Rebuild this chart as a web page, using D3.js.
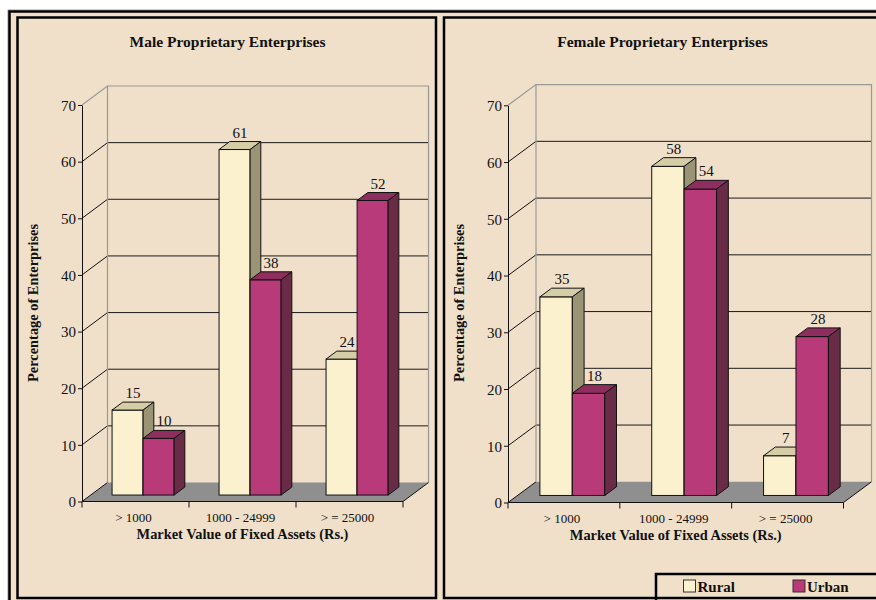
<!DOCTYPE html>
<html>
<head>
<meta charset="utf-8">
<script src="https://cdn.jsdelivr.net/npm/d3@7"></script>
<style>
  body { margin: 0; background: #fff; }
  svg text { font-family: "Liberation Serif", "Times New Roman", serif; fill: #111; }
</style>
</head>
<body>
<div id="chart"></div>
<script>
var categories = ["> 1000", "1000 - 24999", "> = 25000"];
var seriesNames = ["Rural", "Urban"];
var maleRural = [15, 61, 24];
var maleUrban = [10, 38, 52];
var femaleRural = [35, 58, 7];
var femaleUrban = [18, 54, 28];
var yTicks = [0, 10, 20, 30, 40, 50, 60, 70];

var bg = "#F0DFC9";
var colors = {
  Rural: {front: "#FBF1CF", top: "#D5CDA6", side: "#9A9374"},
  Urban: {front: "#B83A78", top: "#8E2E5E", side: "#6A2B47"}
};

var svg = d3.select("#chart").append("svg")
  .attr("width", 876)
  .attr("height", 600);

// beige sheet with the outer double border
svg.append("rect").attr("x", 8).attr("y", 10).attr("width", 900).attr("height", 620)
  .attr("fill", bg).attr("stroke", "#999").attr("stroke-width", 1);
svg.append("rect").attr("x", 9.5).attr("y", 11.5).attr("width", 900).attr("height", 620)
  .attr("fill", "none").attr("stroke", "#000").attr("stroke-width", 2.5);

var panels = [
  {title: "Male Proprietary Enterprises", rural: maleRural, urban: maleUrban, tx: 227.5,
   box: [17.5, 17.5, 418.5, 580.5], x0: 82, y0: 501.5, w: 321, h: 396.5, dx: 25.5, dy: 19},
  {title: "Female Proprietary Enterprises", rural: femaleRural, urban: femaleUrban, tx: 662.5,
   box: [444, 17.5, 440, 580.5], x0: 508, y0: 502.5, w: 335.5, h: 397.2, dx: 28, dy: 20.7}
];

var zFront = 0.34, zBack = 0.76;

panels.forEach(function(p) {
  var g = svg.append("g");

  g.append("rect")
    .attr("x", p.box[0]).attr("y", p.box[1])
    .attr("width", p.box[2]).attr("height", p.box[3])
    .attr("fill", "none").attr("stroke", "#000").attr("stroke-width", 2.5);

  var y = d3.scaleLinear().domain([0, 70]).range([p.y0, p.y0 - p.h]);
  var x = d3.scaleBand().domain(categories).range([p.x0, p.x0 + p.w]).padding(0);
  var bw = x.bandwidth();
  var xs = d3.scaleBand().domain(seriesNames).range([0.2 * bw, 0.78 * bw]).padding(0);

  // floor
  g.append("polygon")
    .attr("points", [[p.x0, p.y0], [p.x0 + p.w, p.y0], [p.x0 + p.w + p.dx, p.y0 - p.dy], [p.x0 + p.dx, p.y0 - p.dy]].join(" "))
    .attr("fill", "#8F8F8F");

  // gridlines on back wall and side wall
  var inner = yTicks.filter(function(t) { return t > 0 && t < 70; });
  g.selectAll(".grid").data(inner).enter().append("line")
    .attr("x1", p.x0 + p.dx).attr("x2", p.x0 + p.w + p.dx)
    .attr("y1", function(d) { return y(d) - p.dy; })
    .attr("y2", function(d) { return y(d) - p.dy; })
    .attr("stroke", "#1a1a1a").attr("stroke-width", 1);
  g.selectAll(".diag").data(inner.concat([0])).enter().append("line")
    .attr("x1", p.x0).attr("x2", p.x0 + p.dx)
    .attr("y1", function(d) { return y(d); })
    .attr("y2", function(d) { return y(d) - p.dy; })
    .attr("stroke", "#111").attr("stroke-width", 1);

  // back wall frame
  var top = y(70);
  g.append("path")
    .attr("d", "M" + p.x0 + "," + top + " L" + (p.x0 + p.dx) + "," + (top - p.dy) +
      " L" + (p.x0 + p.w + p.dx) + "," + (top - p.dy) +
      " L" + (p.x0 + p.w + p.dx) + "," + (p.y0 - p.dy))
    .attr("fill", "none").attr("stroke", "#999").attr("stroke-width", 1.2);
  g.append("line")
    .attr("x1", p.x0 + p.dx).attr("x2", p.x0 + p.dx)
    .attr("y1", top - p.dy).attr("y2", p.y0 - p.dy)
    .attr("stroke", "#999").attr("stroke-width", 1.2);

  // right edge of floor
  g.append("line")
    .attr("x1", p.x0 + p.w).attr("y1", p.y0)
    .attr("x2", p.x0 + p.w + p.dx).attr("y2", p.y0 - p.dy)
    .attr("stroke", "#111");

  // bars
  var ox = zFront * p.dx, oy = zFront * p.dy;
  var ddx = (zBack - zFront) * p.dx, ddy = (zBack - zFront) * p.dy;
  var bars = [];
  seriesNames.forEach(function(s) {
    var vals = s === "Rural" ? p.rural : p.urban;
    categories.forEach(function(c, i) { bars.push({s: s, c: c, v: vals[i]}); });
  });

  var bar = g.selectAll(".bar").data(bars).enter().append("g");
  function bx(d) { return x(d.c) + xs(d.s) + ox; }
  var bwid = xs.bandwidth();

  bar.append("rect")
    .attr("x", bx)
    .attr("y", function(d) { return y(d.v) - oy; })
    .attr("width", bwid)
    .attr("height", function(d) { return p.y0 - y(d.v); })
    .attr("fill", function(d) { return colors[d.s].front; })
    .attr("stroke", "#111").attr("stroke-width", 1);
  bar.append("polygon")
    .attr("points", function(d) {
      var x1 = bx(d), yt = y(d.v) - oy;
      return [[x1, yt], [x1 + ddx, yt - ddy], [x1 + bwid + ddx, yt - ddy], [x1 + bwid, yt]].join(" ");
    })
    .attr("fill", function(d) { return colors[d.s].top; })
    .attr("stroke", "#111").attr("stroke-width", 1);
  bar.append("polygon")
    .attr("points", function(d) {
      var x1 = bx(d) + bwid, yt = y(d.v) - oy, yb = p.y0 - oy;
      return [[x1, yt], [x1 + ddx, yt - ddy], [x1 + ddx, yb - ddy], [x1, yb]].join(" ");
    })
    .attr("fill", function(d) { return colors[d.s].side; })
    .attr("stroke", "#111").attr("stroke-width", 1);

  bar.append("text")
    .attr("x", function(d) { return bx(d) + bwid / 2 + ddx / 2; })
    .attr("y", function(d) { return y(d.v) - oy - ddy - 4; })
    .attr("text-anchor", "middle")
    .style("font-size", "15px")
    .text(function(d) { return d.v; });

  // axes
  g.append("g")
    .attr("transform", "translate(" + p.x0 + ",0)")
    .call(d3.axisLeft(y).tickValues(yTicks).tickSize(4).tickPadding(2).tickSizeOuter(0))
    .call(function(a) {
      a.select(".domain").attr("stroke", "#111");
      a.selectAll("line").attr("stroke", "#111");
      a.selectAll("text").style("font-size", "15px").attr("fill", "#111").attr("dy", "0.35em");
    });

  var xt = d3.scaleLinear().domain([0, 3]).range([p.x0, p.x0 + p.w]);
  g.append("line")
    .attr("x1", p.x0).attr("x2", p.x0 + p.w)
    .attr("y1", p.y0).attr("y2", p.y0)
    .attr("stroke", "#111");
  g.selectAll(".xtick").data([0, 1, 2, 3]).enter().append("line")
    .attr("x1", function(d) { return xt(d); }).attr("x2", function(d) { return xt(d); })
    .attr("y1", p.y0).attr("y2", p.y0 + 6)
    .attr("stroke", "#111");
  g.selectAll(".xlab").data(categories).enter().append("text")
    .attr("x", function(d) { return x(d) + bw / 2 - 2; })
    .attr("y", p.y0 + 20)
    .attr("text-anchor", "middle")
    .style("font-size", "13px")
    .text(function(d) { return d; });

  // titles
  g.append("text")
    .attr("x", p.tx).attr("y", 47)
    .attr("text-anchor", "middle")
    .style("font-size", "15.5px").style("font-weight", "bold")
    .text(p.title);
  g.append("text")
    .attr("x", p.x0 + p.w / 2).attr("y", p.y0 + 37)
    .attr("text-anchor", "middle")
    .style("font-size", "14.4px").style("font-weight", "bold")
    .text("Market Value of Fixed Assets (Rs.)");
  g.append("text")
    .attr("transform", "translate(" + (p.box[0] + 20) + "," + 303 + ") rotate(-90)")
    .attr("text-anchor", "middle")
    .style("font-size", "14.4px").style("font-weight", "bold")
    .text("Percentage of Enterprises");
});

// legend
var legend = svg.append("g");
legend.append("rect")
  .attr("x", 656).attr("y", 574).attr("width", 240).attr("height", 40)
  .attr("fill", "none").attr("stroke", "#000").attr("stroke-width", 2.5);
var li = legend.selectAll(".li").data(seriesNames).enter().append("g")
  .attr("transform", function(d, i) { return "translate(" + (683.5 + i * 109.5) + ",580)"; });
li.append("rect")
  .attr("width", 12).attr("height", 12)
  .attr("fill", function(d) { return colors[d].front; })
  .attr("stroke", "#333").attr("stroke-width", 1);
li.append("text")
  .attr("x", 14).attr("y", 11.5)
  .style("font-size", "15px").style("font-weight", "bold")
  .text(function(d) { return d; });
</script>
</body>
</html>
